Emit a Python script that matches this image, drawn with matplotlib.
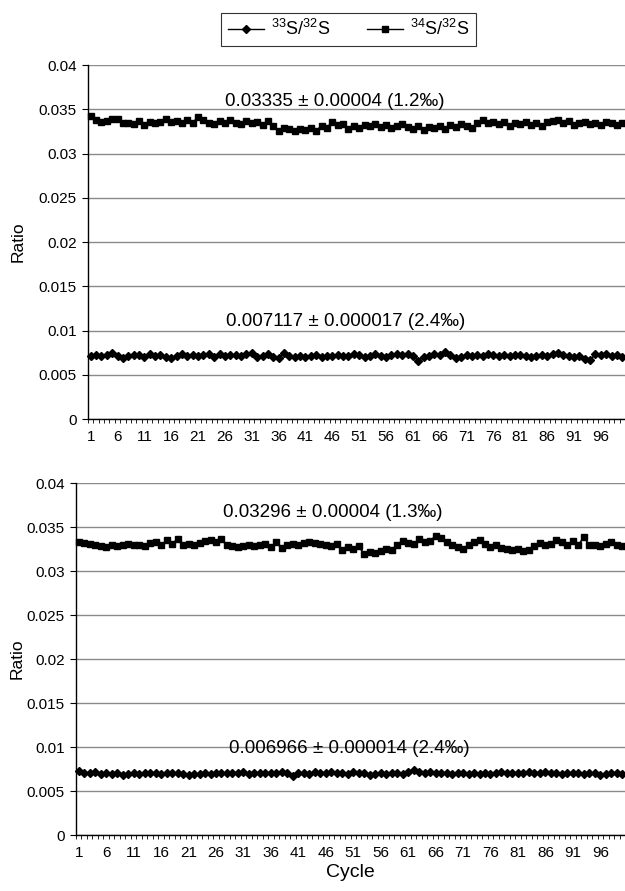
import matplotlib
matplotlib.use("Agg")
import matplotlib.pyplot as plt
import numpy as np
from matplotlib.ticker import FixedLocator, FuncFormatter

plt.rcParams["font.family"] = ["Liberation Sans", "DejaVu Sans"]
plt.rcParams["mathtext.fontset"] = "custom"
plt.rcParams["mathtext.rm"] = "Liberation Sans"
plt.rcParams["mathtext.default"] = "regular"

cycles = np.arange(1, 101)
tick_labels = [str(c) for c in range(1, 100, 5)]

# upper panel
top_34 = [
    0.0342, 0.0338, 0.0336, 0.0337, 0.0339, 0.0339, 0.0335, 0.0334, 0.0333, 0.0337,
    0.0332, 0.0336, 0.0334, 0.0336, 0.0339, 0.0336, 0.0337, 0.0334, 0.0338, 0.0335,
    0.0341, 0.0338, 0.0335, 0.0333, 0.0337, 0.0334, 0.0338, 0.0335, 0.0333, 0.0337,
    0.0334, 0.0336, 0.0332, 0.0337, 0.0331, 0.0325, 0.0329, 0.0328, 0.0326, 0.0328,
    0.0327, 0.0329, 0.0326, 0.0331, 0.0329, 0.0336, 0.0332, 0.0333, 0.0328, 0.0331,
    0.0329, 0.0332, 0.0331, 0.0333, 0.0330, 0.0332, 0.0329, 0.0331, 0.0333, 0.0330,
    0.0328, 0.0331, 0.0327, 0.0330, 0.0329, 0.0331, 0.0328, 0.0332, 0.0330, 0.0333,
    0.0331, 0.0329, 0.0334, 0.0338, 0.0334, 0.0336, 0.0333, 0.0336, 0.0331, 0.0335,
    0.0333, 0.0336, 0.0332, 0.0334, 0.0331, 0.0336, 0.0337, 0.0338, 0.0335, 0.0337,
    0.0332, 0.0334, 0.0336, 0.0333, 0.0335, 0.0332, 0.0336, 0.0334, 0.0332, 0.0335,
]
top_33 = [
    0.0071, 0.0072, 0.0071, 0.0072, 0.0075, 0.0071, 0.0069, 0.0071, 0.0072, 0.0072,
    0.0070, 0.0073, 0.0071, 0.0072, 0.0070, 0.0069, 0.0071, 0.0074, 0.0071, 0.0072,
    0.0071, 0.0072, 0.0073, 0.0070, 0.0073, 0.0071, 0.0072, 0.0072, 0.0071, 0.0073,
    0.0075, 0.0070, 0.0071, 0.0073, 0.0070, 0.0069, 0.0075, 0.0071, 0.0070, 0.0071,
    0.0070, 0.0071, 0.0072, 0.0070, 0.0071, 0.0071, 0.0072, 0.0071, 0.0071, 0.0073,
    0.0072, 0.0070, 0.0071, 0.0073, 0.0071, 0.0070, 0.0072, 0.0073, 0.0072, 0.0074,
    0.0071, 0.0066, 0.0070, 0.0071, 0.0073, 0.0072, 0.0076, 0.0072, 0.0069, 0.0070,
    0.0072, 0.0071, 0.0072, 0.0071, 0.0073, 0.0072, 0.0071, 0.0072, 0.0071, 0.0072,
    0.0072, 0.0071, 0.0070, 0.0071, 0.0072, 0.0071, 0.0073, 0.0075, 0.0072, 0.0071,
    0.0070, 0.0071, 0.0068, 0.0067, 0.0073, 0.0072, 0.0074, 0.0071, 0.0072, 0.0070,
]

# lower panel
bot_34 = [
    0.0333, 0.0332, 0.0331, 0.0330, 0.0328, 0.0327, 0.0329, 0.0328, 0.0330, 0.0331,
    0.0329, 0.0330, 0.0328, 0.0332, 0.0333, 0.0329, 0.0335, 0.0331, 0.0336, 0.0330,
    0.0331, 0.0330, 0.0332, 0.0334, 0.0335, 0.0333, 0.0336, 0.0329, 0.0328, 0.0327,
    0.0328, 0.0329, 0.0328, 0.0330, 0.0331, 0.0327, 0.0333, 0.0326, 0.0330, 0.0331,
    0.0329, 0.0332, 0.0333, 0.0332, 0.0331, 0.0330, 0.0328, 0.0331, 0.0324, 0.0327,
    0.0325, 0.0328, 0.0319, 0.0322, 0.0321, 0.0323, 0.0325, 0.0324, 0.0330, 0.0334,
    0.0332, 0.0331, 0.0336, 0.0333, 0.0334, 0.0340, 0.0337, 0.0333, 0.0330, 0.0327,
    0.0325, 0.0329, 0.0333, 0.0335, 0.0331, 0.0327, 0.0329, 0.0326, 0.0325, 0.0324,
    0.0325, 0.0323, 0.0324, 0.0328, 0.0332, 0.0330, 0.0331, 0.0335, 0.0333, 0.0330,
    0.0334, 0.0329, 0.0339, 0.0329, 0.0330, 0.0328, 0.0331, 0.0333, 0.0330, 0.0328,
]
bot_33 = [
    0.0073, 0.0071, 0.0070, 0.0072, 0.0069, 0.0071, 0.0069, 0.0071, 0.0068, 0.0069,
    0.0070, 0.0069, 0.0070, 0.0070, 0.0071, 0.0069, 0.0071, 0.0070, 0.0071, 0.0069,
    0.0068, 0.0069, 0.0069, 0.0070, 0.0069, 0.0070, 0.0071, 0.0070, 0.0071, 0.0071,
    0.0072, 0.0069, 0.0070, 0.0071, 0.0070, 0.0071, 0.0071, 0.0072, 0.0070, 0.0067,
    0.0070, 0.0071, 0.0069, 0.0072, 0.0070, 0.0071, 0.0072, 0.0070, 0.0071, 0.0069,
    0.0072, 0.0070, 0.0071, 0.0068, 0.0069, 0.0070, 0.0069, 0.0070, 0.0071, 0.0069,
    0.0072, 0.0074, 0.0072, 0.0071, 0.0072, 0.0071, 0.0070, 0.0071, 0.0069, 0.0070,
    0.0071, 0.0069, 0.0071, 0.0069, 0.0070, 0.0069, 0.0071, 0.0072, 0.0070, 0.0071,
    0.0070, 0.0071, 0.0072, 0.0070, 0.0071, 0.0072, 0.0071, 0.0070, 0.0069, 0.0070,
    0.0071, 0.0070, 0.0069, 0.0071, 0.0070, 0.0068, 0.0069, 0.0070, 0.0071, 0.0069,
]

top_notes = ["0.03335 \u00b1 0.00004 (1.2\u2030)", "0.007117 \u00b1 0.000017 (2.4\u2030)"]
bot_notes = ["0.03296 \u00b1 0.00004 (1.3\u2030)", "0.006966 \u00b1 0.000014 (2.4\u2030)"]
note_x_top = [46.5, 48.5]
note_x_bot = [47.3, 50.2]
note_y_top = [0.03535, 0.0105]
note_y_bot = [0.0361, 0.0093]

y_ticks = np.arange(0, 0.0401, 0.005)


def fmt_ratio(v, pos):
    if v == 0:
        return "0"
    return f"{v:.3f}".rstrip("0").rstrip(".")


def style_panel(ax, label_x):
    ax.set_xlim(0.5, 100.5)
    ax.set_ylim(0, 0.04)
    ax.spines["top"].set_visible(False)
    ax.spines["right"].set_visible(False)
    for s in ("left", "bottom"):
        ax.spines[s].set_linewidth(1.0)
        ax.spines[s].set_color("black")
    ax.set_yticks(y_ticks)
    ax.yaxis.set_major_formatter(FuncFormatter(fmt_ratio))
    ax.grid(True, axis="y", color="#8a8a8a", linewidth=1.0)
    ax.set_axisbelow(True)
    ax.set_xticks(range(1, 100, 5))
    ax.set_xticklabels(tick_labels)
    ax.xaxis.set_minor_locator(FixedLocator(np.arange(0.5, 101, 1.0)))
    ax.tick_params(axis="x", which="major", length=0, pad=8, labelsize=11)
    ax.tick_params(axis="x", which="minor", length=3, width=0.6, direction="out")
    ax.tick_params(axis="y", length=4, width=0.8, labelsize=11, pad=4)
    ax.set_ylabel("Ratio", fontsize=12.5)
    ax.yaxis.set_label_coords(label_x, 0.5)


def draw_panel(ax, r34, r33, notes, nx, ny, label_x):
    ax.plot(cycles, r34, color="black", lw=1.2, marker="s", ms=4.6, clip_on=False)
    ax.plot(cycles, r33, color="black", lw=1.2, marker="D", ms=4.2, clip_on=False)
    for text, x, y in zip(notes, nx, ny):
        ax.text(x, y, text, ha="center", va="baseline", fontsize=13.5)
    style_panel(ax, label_x)


fig = plt.figure(figsize=(6.25, 8.91), dpi=100)
ax1 = fig.add_axes([0.1408, 0.5297, 0.8592, 0.3973])
ax2 = fig.add_axes([0.1216, 0.0628, 0.8784, 0.3951])

draw_panel(ax1, top_34, top_33, top_notes, note_x_top, note_y_top, -0.117)
draw_panel(ax2, bot_34, bot_33, bot_notes, note_x_bot, note_y_bot, -0.093)
ax2.set_xlabel("Cycle", fontsize=14, labelpad=3)

h33, = ax1.plot([], [], color="black", lw=1.0, marker="D", ms=4.2)
h34, = ax1.plot([], [], color="black", lw=1.0, marker="s", ms=4.6)
leg = fig.legend([h33, h34], [r"$^{33}$S/$^{32}$S", r"$^{34}$S/$^{32}$S"],
                 loc="center", bbox_to_anchor=(0.558, 0.967), ncol=2,
                 frameon=True, fancybox=False, edgecolor="black",
                 fontsize=13, handlelength=2.0, handletextpad=0.4,
                 columnspacing=2.0, borderpad=0.35)
leg.get_frame().set_linewidth(0.8)

fig.savefig("out.png", dpi=100)
